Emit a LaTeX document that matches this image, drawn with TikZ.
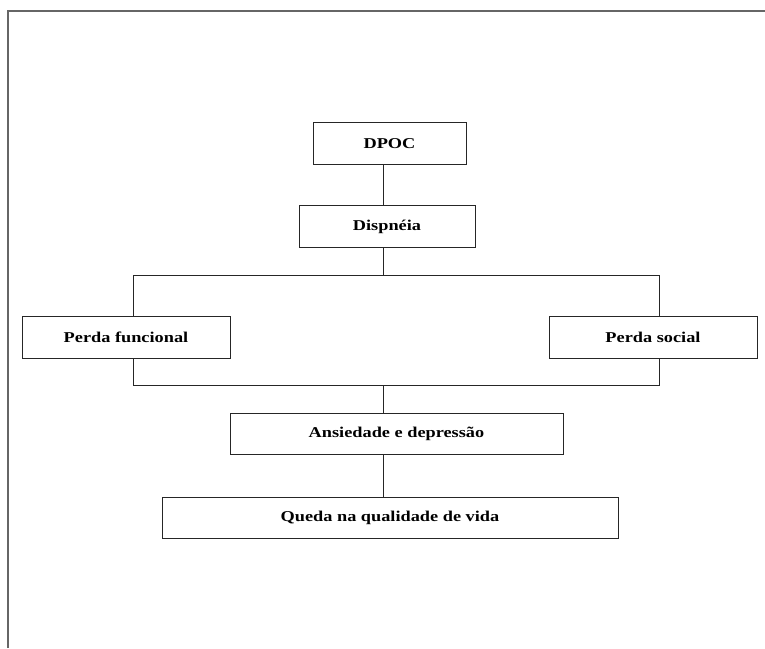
\documentclass[tikz,border=0pt]{standalone}
\usepackage{fontspec}
\setmainfont{Liberation Serif}
\newfontfamily\rotulo[FakeStretch=1.22]{Liberation Serif}

\begin{document}
\begin{tikzpicture}[x=1pt,y=-1pt,
    caixa/.style={draw=black!85,line width=1pt,rectangle,inner sep=0pt,
      font=\rotulo\fontsize{15}{17}\selectfont\bfseries},
    liga/.style={draw=black!85,line width=1pt}]
\useasboundingbox (0,0) rectangle (765,648);
\draw[black!60,line width=2pt] (7.5,648) -- (7.5,10.5) -- (765,10.5);
\node[caixa,minimum width=153pt,minimum height=41.6pt] (dpoc) at (389.5,143.5) {DPOC};
\node[caixa,minimum width=176pt,minimum height=41.6pt] (dispneia) at (387,226.5) {Dispnéia};
\node[caixa,minimum width=208pt,minimum height=41.6pt] (perdaf) at (126,337.5) {Perda funcional};
\node[caixa,minimum width=208pt,minimum height=41.6pt] (perdas) at (653,337.5) {Perda social};
\node[caixa,minimum width=333pt,minimum height=41pt] (ansiedade) at (396.5,433.5) {Ansiedade e depressão};
\node[caixa,minimum width=456pt,minimum height=41pt] (queda) at (390,517.5) {Queda na qualidade de vida};
\coordinate (tronco) at (383,0);
\coordinate (cimaE) at (133.3,275);
\coordinate (cimaD) at (659.3,275);
\coordinate (baixoE) at (133.3,385.7);
\coordinate (baixoD) at (659.3,385.7);
\draw[liga] (dpoc.south -| tronco) -- (dispneia.north -| tronco);
\draw[liga] (dispneia.south -| tronco) -- (tronco |- cimaE);
\draw[liga] (perdaf.north -| cimaE) -- (cimaE) -- (cimaD) -- (perdas.north -| cimaD);
\draw[liga] (perdaf.south -| baixoE) -- (baixoE) -- (baixoD) -- (perdas.south -| baixoD);
\draw[liga] (tronco |- baixoE) -- (ansiedade.north -| tronco);
\draw[liga] (ansiedade.south -| tronco) -- (queda.north -| tronco);
\end{tikzpicture}
\end{document}
